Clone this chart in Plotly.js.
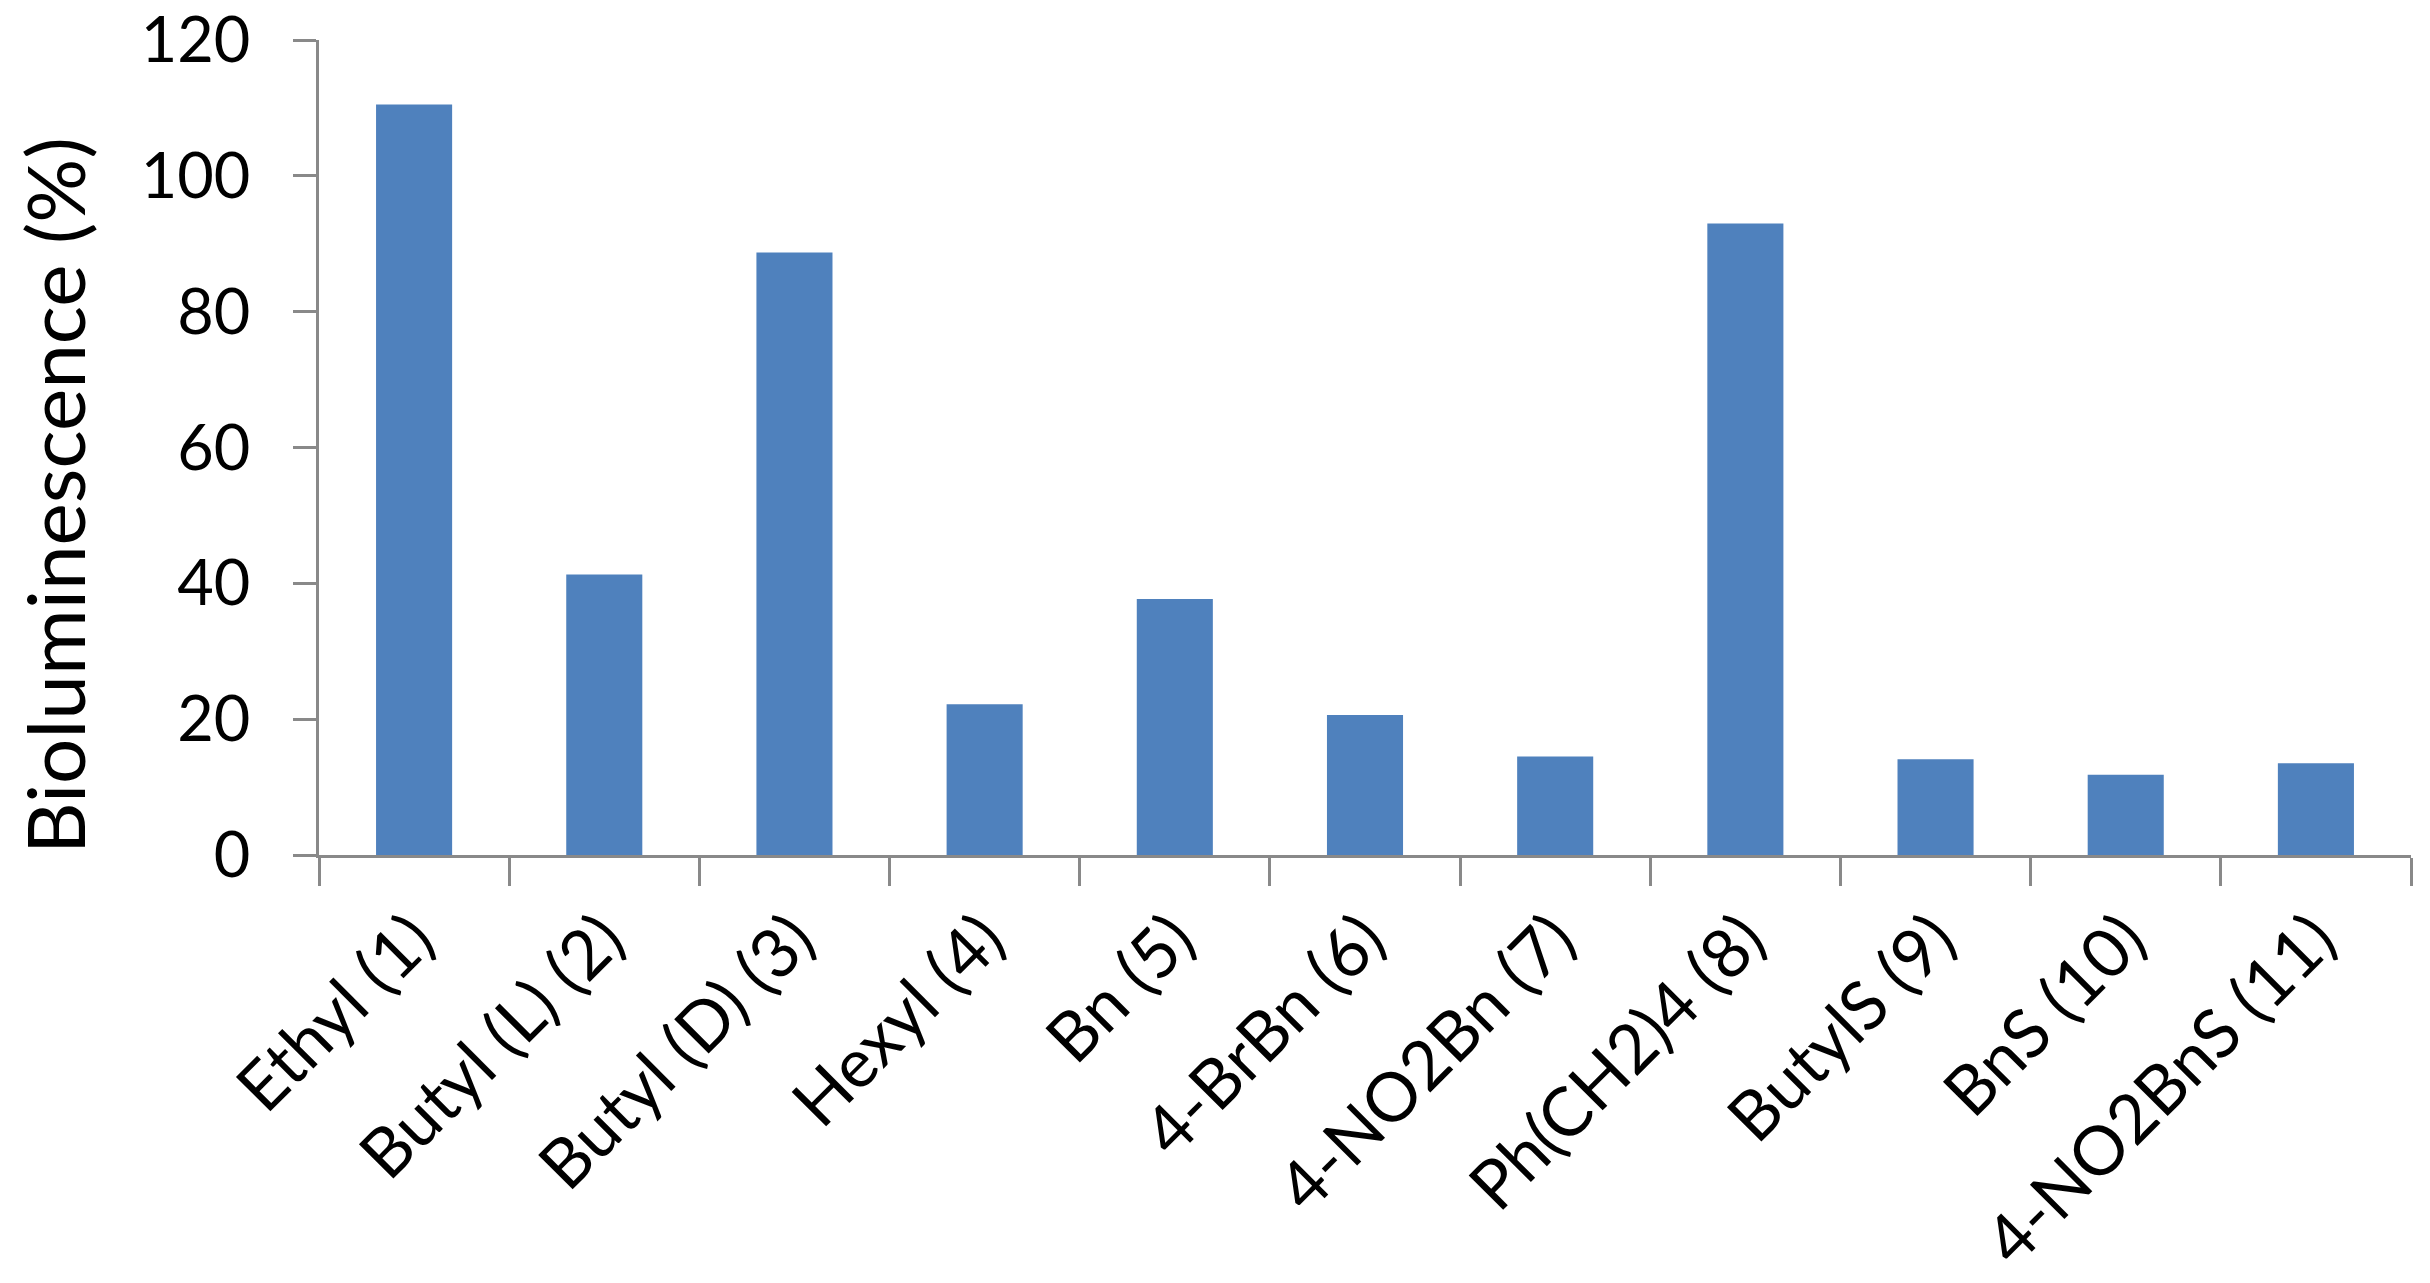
<!DOCTYPE html>
<html>
<head>
<meta charset="utf-8">
<script src="https://cdn.plot.ly/plotly-3.0.1.min.js"></script>
<style>
  html, body { margin: 0; padding: 0; background: #fff; }
  #graph { width: 2430px; height: 1283px; }
</style>
</head>
<body>
<div id="graph"></div>
<script>
// compounds on the x axis
var compounds = ["Ethyl (1)", "Butyl (L) (2)", "Butyl (D) (3)", "Hexyl (4)", "Bn (5)",
  "4-BrBn (6)", "4-NO2Bn (7)", "Ph(CH2)4 (8)", "ButylS (9)", "BnS (10)", "4-NO2BnS (11)"];

// bioluminescence in %
var biolum = [110.5, 41.3, 88.7, 22.2, 37.7, 20.6, 14.5, 93.0, 14.1, 11.8, 13.5];

var yTicks = [0, 20, 40, 60, 80, 100, 120];

var axisGrey = "#898989";

var trace1 = {
  type: "bar",
  x: compounds,
  y: biolum,
  marker: {
    color: "#4F81BD",
    line: { width: 0 }
  },
  hoverinfo: "x+y"
};

var layout1 = {
  width: 2430,
  height: 1283,
  paper_bgcolor: "#ffffff",
  plot_bgcolor: "#ffffff",
  margin: { l: 319, r: 19, t: 40, b: 428 },
  bargap: 0.6,
  showlegend: false,
  font: { family: "Lato, 'Open Sans', sans-serif", color: "#000000" },
  xaxis: {
    type: "category",
    tickson: "boundaries",
    ticks: "outside",
    ticklen: 28,
    tickwidth: 3,
    tickcolor: axisGrey,
    showline: true,
    linecolor: axisGrey,
    linewidth: 3,
    showgrid: false,
    zeroline: false,
    tickangle: -45,
    ticklabelstandoff: 14,
    ticklabeloverflow: "allow",
    tickfont: { size: 68, color: "#000000" }
  },
  yaxis: {
    range: [0, 120],
    tickvals: yTicks,
    ticks: "outside",
    ticklen: 23,
    tickwidth: 3,
    tickcolor: axisGrey,
    showline: true,
    linecolor: axisGrey,
    linewidth: 3,
    showgrid: false,
    zeroline: false,
    ticklabelstandoff: 30,
    ticklabeloverflow: "allow",
    tickfont: { size: 63, color: "#000000" }
  },
  annotations: [{
    text: "Bioluminescence (%)",
    xref: "paper",
    yref: "paper",
    x: (54 - 319) / 2092,
    y: (855 - 496) / 815,
    xanchor: "center",
    yanchor: "middle",
    textangle: -90,
    showarrow: false,
    font: { size: 80, color: "#000000" }
  }]
};

Plotly.newPlot("graph", [trace1], layout1, { staticPlot: true });
</script>
</body>
</html>
